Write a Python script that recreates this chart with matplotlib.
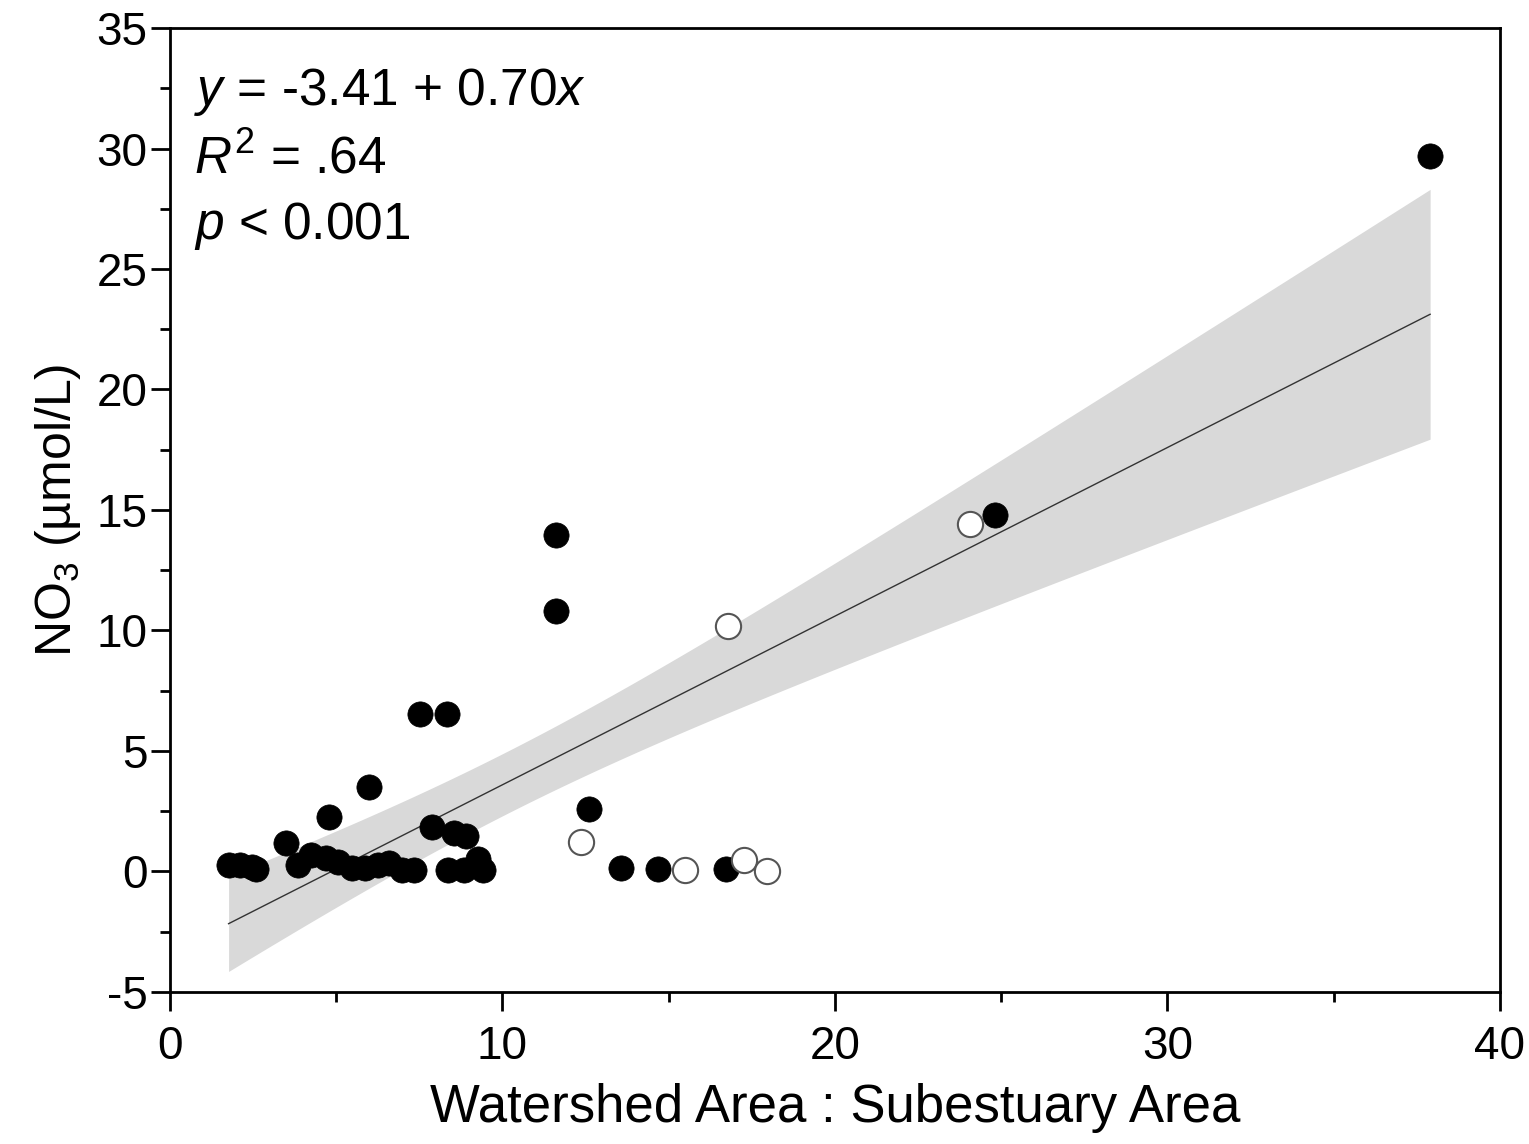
import numpy as np
import matplotlib
matplotlib.use("Agg")
import matplotlib.pyplot as plt
from matplotlib.ticker import MultipleLocator

plt.rcParams['font.family'] = ['Liberation Sans', 'DejaVu Sans']
plt.rcParams['mathtext.fontset'] = 'custom'
plt.rcParams['mathtext.rm'] = 'Liberation Sans'
plt.rcParams['mathtext.it'] = 'Liberation Sans:italic'
plt.rcParams['axes.unicode_minus'] = False

# Filled points
filled_x = [37.9, 24.83, 11.62, 11.62, 7.54, 8.35, 5.98, 4.8, 3.5, 12.62, 13.57, 14.68, 16.72,
            7.9, 8.55, 8.9,
            1.77, 2.1, 2.46, 2.6,
            3.87, 4.26, 4.7, 5.07, 5.47, 5.86, 6.27, 6.58, 6.97, 7.36, 8.38, 8.86, 9.28, 9.43]
filled_y = [29.7, 14.8, 13.98, 10.8, 6.52, 6.52, 3.52, 2.25, 1.17, 2.6, 0.15, 0.08, 0.08,
            1.85, 1.6, 1.45,
            0.27, 0.27, 0.2, 0.1,
            0.27, 0.7, 0.55, 0.4, 0.15, 0.15, 0.27, 0.35, 0.06, 0.06, 0.06, 0.06, 0.5, 0.06]
# Open points
open_x = [24.05, 16.8, 12.37, 15.5, 17.27, 17.96]
open_y = [14.4, 10.2, 1.23, 0.06, 0.48, 0.0]

# Regression
intercept = -3.41
slope = 0.70
fit_xmin, fit_xmax = 1.77, 37.9

all_x = np.array(filled_x + open_x)
all_y = np.array(filled_y + open_y)
n = len(all_x)
xs = np.linspace(fit_xmin, fit_xmax, 200)
ys = intercept + slope * xs
resid = all_y - (intercept + slope * all_x)
s = np.sqrt(np.sum(resid**2) / (n - 2))
xm = all_x.mean()
sxx = np.sum((all_x - xm)**2)
tval = 1.95
half = tval * s * np.sqrt(1.0 / n + (xs - xm)**2 / sxx)

fig = plt.figure(figsize=(15.29, 11.44), dpi=100)
ax = fig.add_axes([0.111, 0.133, 0.87, 0.8425])

ax.fill_between(xs, ys - half, ys + half, color='#d9d9d9', linewidth=0, zorder=1)
ax.plot(xs, ys, color='#333333', linewidth=1.0, zorder=2)

ax.scatter(filled_x, filled_y, s=330, c='black', edgecolors='black', linewidths=0.5, zorder=3)
ax.scatter(open_x, open_y, s=330, c='white', edgecolors='#555555', linewidths=1.5, zorder=4)

ax.set_xlim(0, 40)
ax.set_ylim(-5, 35)
ax.xaxis.set_major_locator(MultipleLocator(10))
ax.xaxis.set_minor_locator(MultipleLocator(5))
ax.yaxis.set_major_locator(MultipleLocator(5))
ax.yaxis.set_minor_locator(MultipleLocator(2.5))
ax.tick_params(which='major', direction='out', length=14, width=2, labelsize=33)
ax.tick_params(axis='x', which='major', pad=10)
ax.tick_params(axis='y', which='major', pad=2)
ax.tick_params(which='minor', direction='out', length=7, width=2)
for sp in ax.spines.values():
    sp.set_linewidth(2)

ax.set_xlabel('Watershed Area : Subestuary Area', fontsize=38, labelpad=10)
ax.set_ylabel('NO$_3$ (µmol/L)', fontsize=36, labelpad=10)

ax.text(0.018, 0.934, '$y$ = -3.41 + 0.70$x$', transform=ax.transAxes, fontsize=37, va='center')
ax.text(0.018, 0.864, '$R^2$ = .64', transform=ax.transAxes, fontsize=37, va='center')
ax.text(0.018, 0.795, '$p$ < 0.001', transform=ax.transAxes, fontsize=37, va='center')

fig.savefig('out.png', dpi=100)
